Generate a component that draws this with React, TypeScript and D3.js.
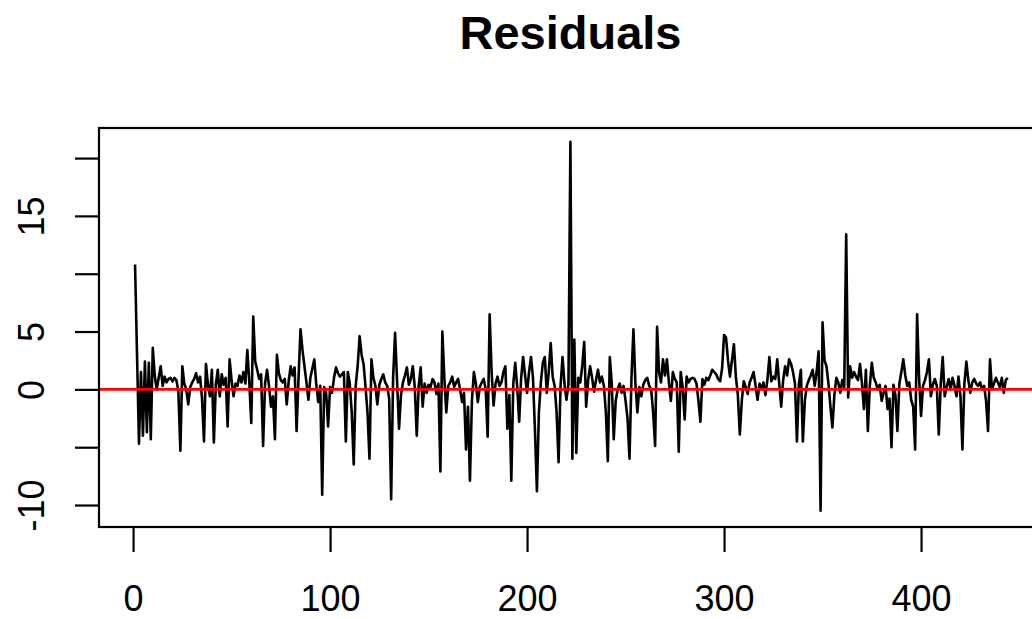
// App.tsx - residuals time-series plot

import { useRef, useEffect } from 'react';
import * as d3 from 'd3';

const title = 'Residuals';

const residuals = [
  10.8, 3.0, -4.7, 1.5, -4.0, 2.4, -3.7, 2.3, -4.3, 3.6,
  1.2, 0.0, 1.0, 2.0, 0.3, 1.1, 0.6, 0.9, 1.0, 0.7,
  1.0, 0.8, -0.2, -5.3, 2.0, 0.5, 0.0, -1.3, 0.2, 0.6,
  0.9, 1.4, 0.6, 1.1, -0.8, -4.5, 2.2, 0.4, -0.6, 1.7,
  -4.6, 0.4, 1.7, -0.6, 1.3, 0.4, 1.0, -3.2, 2.6, 0.8,
  -0.6, 0.5, 0.3, 1.2, 0.6, 1.5, 0.5, 3.4, 0.6, -2.9,
  6.3, 2.4, 1.7, 0.9, 1.3, -4.9, 0.5, 1.7, 0.3, -1.5,
  -0.6, -4.3, 3.0, 1.4, 0.8, 0.6, 0.9, -1.3, 0.7, 2.0,
  1.2, 1.9, -3.6, 1.0, 5.2, 3.4, 2.0, 0.6, -0.9, 1.0,
  1.8, 2.6, 0.4, -1.1, 0.3, -9.1, 0.2, -0.3, -3.2, 0.2,
  -0.3, 1.0, 1.9, 1.4, 1.1, 1.3, 1.5, -4.5, 1.5, 0.5,
  -2.0, -6.5, 0.3, 2.0, 4.6, 3.0, 2.2, 0.2, -2.0, -6.0,
  2.6, 1.0, 0.3, -1.3, 0.4, 0.9, 1.3, 0.6, 0.3, -0.8,
  -9.5, 1.0, 4.9, 0.8, -3.4, -0.5, 0.6, 1.2, 1.9, 0.4,
  0.9, 2.0, 0.2, -4.0, 0.3, 1.9, -1.5, 0.5, -0.3, 0.4,
  0.2, 0.9, 0.6, -0.4, 0.5, -7.1, 5.0, 1.0, -2.0, 0.3,
  0.6, 1.1, 0.2, 0.6, 0.9, 0.0, -1.1, -0.3, -5.2, -1.5,
  -7.9, -1.0, 1.5, 0.5, -1.1, 0.2, 0.6, 0.9, 0.0, -4.1,
  6.5, 1.5, -1.4, 0.5, 1.1, 0.3, 0.6, 1.5, 2.0, -3.4,
  -0.5, -7.9, 0.5, 2.3, 0.2, -2.8, 1.0, 2.8, 1.2, -0.3,
  1.5, 2.8, 1.0, -3.5, -8.8, -2.0, 0.6, 2.3, 2.8, -0.3,
  1.5, 4.0, 1.1, 0.3, -2.0, -6.3, 0.3, 2.8, 0.5, -0.9,
  0.4, 21.4, -6.0, 4.3, -5.5, 1.0, 0.6, 2.0, 4.1, -1.5,
  0.8, 2.0, 1.0, -0.2, 0.8, 1.7, 0.6, 1.1, 0.3, -2.0,
  -6.2, 2.8, 0.5, -4.3, -1.0, 0.0, 0.5, -0.3, 0.3, -1.0,
  -2.5, -6.0, 1.0, 5.2, 0.5, -2.0, 0.2, -0.6, 0.4, 0.8,
  1.0, 0.3, 0.0, -2.0, -4.9, 5.4, 1.5, 0.6, 2.6, 1.2,
  2.6, 0.6, -1.0, 1.5, 0.9, 0.6, -5.4, 1.5, 0.2, -2.6,
  1.1, 0.6, 0.9, 1.0, 0.9, 0.5, -1.0, -2.8, 0.9, 0.4,
  1.0, 0.8, 1.2, 1.7, 1.5, 1.3, 0.9, 0.7, 1.8, 4.7,
  4.5, 2.5, 1.1, 2.5, 3.9, 1.1, -0.5, -3.9, -1.0, 0.7,
  0.2, -0.4, 0.6, 1.0, 1.5, 0.3, -0.9, 0.5, 0.0, 0.6,
  -0.5, 0.8, 2.8, 0.7, 1.1, 0.9, 2.6, 0.5, -1.5, 0.8,
  2.0, 1.2, 2.6, 2.2, 1.5, 0.5, -4.5, 0.5, 1.7, -4.5,
  -1.0, 0.3, 0.8, 1.2, 1.7, 0.3, 1.5, 3.3, -10.5, 5.8,
  2.5, 2.0, 0.5, -1.5, -3.3, -0.5, 1.0, 0.6, -0.3, 0.8,
  0.2, 13.4, -0.7, 2.0, 1.0, 1.5, 1.1, 0.8, 2.2, 0.5,
  -1.7, 1.7, -3.6, 0.3, 2.3, 1.0, 0.6, 0.0, 0.4, -1.0,
  -0.3, 0.3, -1.7, -0.8, -5.0, 0.4, -0.5, -3.6, 0.5, 1.5,
  2.6, 1.2, 0.3, 0.6, -0.9, -1.5, -5.2, 6.5, 1.0, -2.3,
  0.3, 0.8, 1.5, 2.6, -0.6, 0.4, 0.9, 0.3, -3.9, 0.5,
  2.8, -0.6, 0.2, 0.9, 0.0, 1.0, 0.3, -0.6, 1.1, -0.6,
  -5.2, 0.5, 2.4, 0.8, -0.3, 0.6, 0.9, 0.5, 0.3, 0.6,
  0.0, 0.3, -1.0, -3.6, 2.6, 0.0, 0.5, 1.0, 0.6, 0.2,
  1.0, -0.3, 0.8, 1.0,
];

const xTicks = [0, 100, 200, 300, 400];
const yTicks = [-10, -5, 0, 5, 10, 15, 20];
// R drops the labels that would overlap
const yTickLabels = ['-10', '', '0', '5', '', '15', ''];

const App = () => {
  const svgRef = useRef<SVGSVGElement>(null);

  useEffect(() => {
    const width = 1032;
    const height = 619;
    const plot = { left: 99, right: 1042, top: 128, bottom: 527 };

    const svg = d3.select(svgRef.current);
    svg.selectAll('*').remove();

    const xScale = d3.scaleLinear()
      .domain([-17.3, 461.4])
      .range([plot.left, plot.right]);

    const yScale = d3.scaleLinear()
      .domain([-11.9, 22.6])
      .range([plot.bottom, plot.top]);

    svg.attr('width', width).attr('height', height);

    // title
    svg.append('text')
      .text(title)
      .attr('x', (plot.left + plot.right) / 2)
      .attr('y', 49)
      .attr('text-anchor', 'middle')
      .attr('font-family', '"Liberation Sans", Arial, sans-serif')
      .attr('font-weight', 'bold')
      .attr('font-size', 47)
      .attr('fill', '#000');

    // residual series
    const line = d3.line<number>()
      .x((d, i) => xScale(i + 1))
      .y(d => yScale(d));

    svg.append('path')
      .datum(residuals)
      .attr('d', line)
      .attr('fill', 'none')
      .attr('stroke', '#000')
      .attr('stroke-width', 2.6)
      .attr('stroke-linejoin', 'round');

    // zero reference line
    svg.append('line')
      .attr('x1', plot.left)
      .attr('x2', plot.right)
      .attr('y1', yScale(0))
      .attr('y2', yScale(0))
      .attr('stroke', '#ff0000')
      .attr('stroke-width', 2.6);

    // box
    svg.append('rect')
      .attr('x', plot.left)
      .attr('y', plot.top)
      .attr('width', plot.right - plot.left)
      .attr('height', plot.bottom - plot.top)
      .attr('fill', 'none')
      .attr('stroke', '#000')
      .attr('stroke-width', 2.2);

    // x axis
    const xAxis = svg.append('g')
      .attr('transform', `translate(0, ${plot.bottom})`)
      .call(d3.axisBottom(xScale).tickValues(xTicks).tickSize(25));
    xAxis.select('.domain').remove();
    xAxis.selectAll('line').attr('stroke', '#000').attr('stroke-width', 2.2);
    xAxis.selectAll('text')
      .attr('font-family', '"Liberation Sans", Arial, sans-serif')
      .attr('font-size', 36)
      .attr('fill', '#000')
      .attr('dy', 0)
      .attr('y', 84);

    // y axis, labels rotated like R
    const yAxis = svg.append('g')
      .attr('transform', `translate(${plot.left}, 0)`)
      .call(d3.axisLeft(yScale).tickValues(yTicks).tickSize(24)
        .tickFormat((d, i) => yTickLabels[i]));
    yAxis.select('.domain').remove();
    yAxis.selectAll('line').attr('stroke', '#000').attr('stroke-width', 2.2);
    yAxis.selectAll('text')
      .attr('font-family', '"Liberation Sans", Arial, sans-serif')
      .attr('font-size', 36)
      .attr('fill', '#000')
      .attr('x', 0)
      .attr('dy', 0)
      .attr('text-anchor', 'middle')
      .attr('transform', 'translate(-55, 0) rotate(-90)');

  }, []);

  return (
    <div style={{ position: 'absolute', left: 0, top: 0, background: '#fff' }}>
      <svg ref={svgRef} style={{ display: 'block' }}></svg>
    </div>
  );
};

export default App;
